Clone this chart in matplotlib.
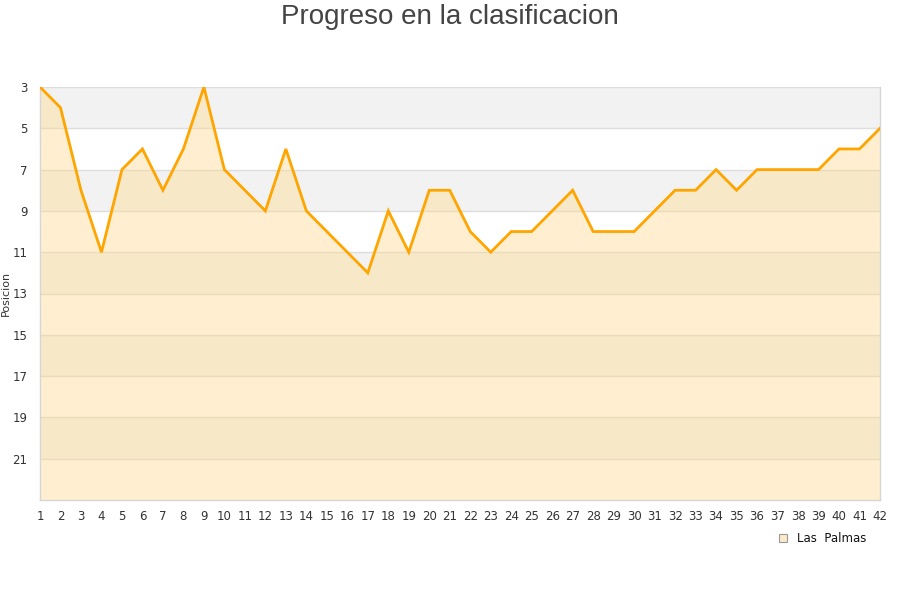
import matplotlib.pyplot as plt

jornadas = list(range(1, 43))
posiciones = [3, 4, 8, 11, 7, 6, 8, 6, 3, 7,
              8, 9, 6, 9, 10, 11, 12, 9, 11, 8,
              8, 10, 11, 10, 10, 9, 8, 10, 10, 10,
              9, 8, 8, 7, 8, 7, 7, 7, 7, 6,
              6, 5]
y_ticks = list(range(3, 23, 2))
equipo = 'Las  Palmas'

fig = plt.figure(figsize=(9, 6), dpi=100)
ax = fig.add_axes([40 / 900, 1 - 500 / 600, 840 / 900, 413 / 600])

y_min, y_max = 3, 23
ax.set_xlim(1, 42)
ax.set_ylim(y_max, y_min)

# alternating horizontal bands
for i, t in enumerate(range(y_min, y_max, 2)):
    if i % 2 == 0:
        ax.axhspan(t, t + 2, color='#f2f2f2', zorder=0, lw=0)
for t in y_ticks:
    ax.axhline(t, color='#dddddd', lw=1, zorder=1)

ax.fill_between(jornadas, posiciones, y_max, color='#ffd98a', alpha=0.4,
                lw=0, zorder=2)
ax.plot(jornadas, posiciones, color='#ffa500', lw=2, zorder=3,
        solid_joinstyle='miter')

ax.set_xticks(jornadas)
ax.set_yticks(y_ticks)
ax.tick_params(axis='both', length=0, labelsize=8.5, colors='#333333')
ax.tick_params(axis='x', pad=7)
ax.tick_params(axis='y', pad=9)
for s in ax.spines.values():
    s.set_color('#d6d6d6')
    s.set_linewidth(1)
ax.spines['top'].set_visible(False)

ax.set_ylabel('Posicion', fontsize=8, color='#333333', labelpad=4)
ax.yaxis.set_label_coords(-0.035, 0.5)

fig.text(0.5, 1 - 17 / 600, 'Progreso en la clasificacion', ha='center',
         va='center', fontsize=20, color='#444444', family='Liberation Sans')

# legend
fig.patches.append(plt.Rectangle((779 / 900, 1 - 542 / 600), 8 / 900, 8 / 600,
                                 transform=fig.transFigure, facecolor='#fbe9c8',
                                 edgecolor='#999999', lw=0.8))
fig.text(797 / 900, 1 - 538 / 600, equipo, ha='left', va='center',
         fontsize=8.5, color='#111111')

fig.savefig('out.png', dpi=100)
